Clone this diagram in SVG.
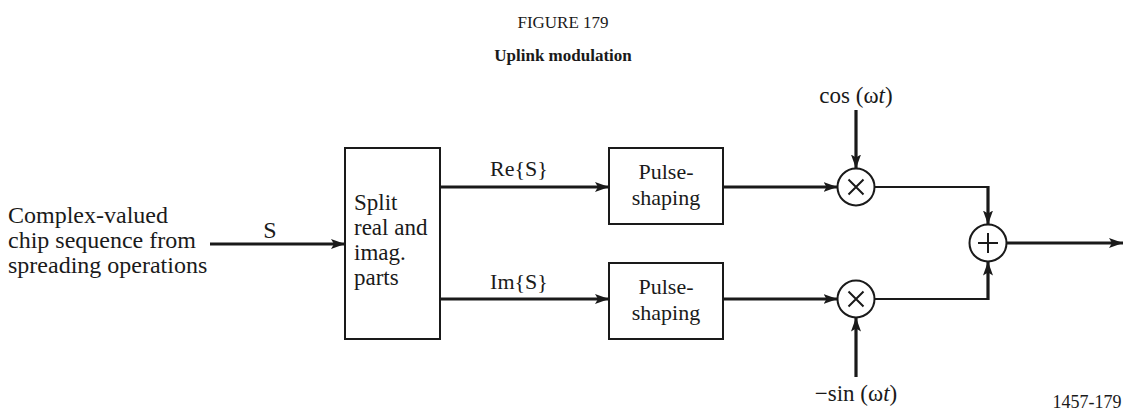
<svg xmlns="http://www.w3.org/2000/svg" width="1126" height="414" viewBox="0 0 1126 414" font-family="'Liberation Serif', 'Times New Roman', 'DejaVu Serif', serif">
<style>
text{font-family:'Liberation Serif','Times New Roman','DejaVu Serif',serif;fill:#1a1a1a}
.t{font-size:22px}
.big{font-size:24px}
.mid{font-size:23px}
.c{text-anchor:middle}
.box{fill:#fff;stroke:#1a1a1a;stroke-width:2}
.thick{stroke:#1a1a1a;stroke-width:3.2;fill:none}
.thin{stroke:#1a1a1a;stroke-width:2;fill:none}
</style>
<defs>
<marker id="ah" markerUnits="userSpaceOnUse" markerWidth="16" markerHeight="12" refX="14" refY="5" orient="auto">
<path d="M0,0 L14,5 L0,10 L3,5 Z" fill="#1a1a1a"/>
</marker>
</defs>
<rect width="1126" height="414" fill="#fff"/>
<g id="title">
<text x="563" y="28" class="c" font-size="17">FIGURE 179</text>
<text x="563" y="61" class="c" font-size="17" font-weight="bold">Uplink modulation</text>
</g>
<g id="input-label">
<text class="big" x="8" y="223">Complex-valued</text>
<text class="big" x="8" y="248">chip sequence from</text>
<text class="big" x="8" y="273">spreading operations</text>
</g>
<g id="split">
<rect class="box" x="345" y="148" width="95" height="191"/>
<text class="mid" x="354" y="210">Split</text>
<text class="mid" x="354" y="235">real and</text>
<text class="mid" x="354" y="260">imag.</text>
<text class="mid" x="354" y="285">parts</text>
</g>
<g id="pulse1">
<rect class="box" x="609" y="148" width="114" height="76"/>
<text class="t c" x="666" y="179">Pulse-</text>
<text class="t c" x="666" y="205">shaping</text>
</g>
<g id="pulse2">
<rect class="box" x="609" y="263" width="114" height="76"/>
<text class="t c" x="666" y="294">Pulse-</text>
<text class="t c" x="666" y="320">shaping</text>
</g>
<g id="mult1">
<circle class="thin" cx="856" cy="187" r="18.5" fill="#fff"/>
<path class="thin" d="M848.5,179.5 L863.5,194.5 M863.5,179.5 L848.5,194.5"/>
</g>
<g id="mult2">
<circle class="thin" cx="856" cy="299" r="18.5" fill="#fff"/>
<path class="thin" d="M848.5,291.5 L863.5,306.5 M863.5,291.5 L848.5,306.5"/>
</g>
<g id="adder">
<circle class="thin" cx="988" cy="243" r="18.5" fill="#fff"/>
<path class="thin" d="M978,243 L998,243 M988,233 L988,253"/>
</g>
<g id="labels">
<text class="big c" x="270" y="238">S</text>
<text class="t c" x="519" y="176">Re{S}</text>
<text class="t c" x="519" y="289">Im{S}</text>
<text class="mid c" x="856" y="103">cos (ω<tspan font-style="italic">t</tspan>)</text>
<text class="mid c" x="856" y="401">−sin (ω<tspan font-style="italic">t</tspan>)</text>
<text x="1087" y="408" class="c" font-size="18">1457-179</text>
</g>
<g id="connectors">
<line class="thick" x1="210" y1="244" x2="345" y2="244" marker-end="url(#ah)"/>
<line class="thick" x1="440" y1="187" x2="609" y2="187" marker-end="url(#ah)"/>
<line class="thick" x1="440" y1="299" x2="609" y2="299" marker-end="url(#ah)"/>
<line class="thick" x1="723" y1="187" x2="837.5" y2="187" marker-end="url(#ah)"/>
<line class="thick" x1="723" y1="299" x2="837.5" y2="299" marker-end="url(#ah)"/>
<line class="thick" x1="856" y1="110" x2="856" y2="168.5" marker-end="url(#ah)"/>
<line class="thick" x1="856" y1="377" x2="856" y2="317.5" marker-end="url(#ah)"/>
<path class="thin" d="M874.5,187 L988,187"/>
<path class="thin" d="M874.5,299 L988,299"/>
<line class="thick" x1="988" y1="186" x2="988" y2="224.5" marker-end="url(#ah)"/>
<line class="thick" x1="988" y1="300" x2="988" y2="261.5" marker-end="url(#ah)"/>
<line class="thick" x1="1006.5" y1="243" x2="1123" y2="243" marker-end="url(#ah)"/>
</g>
</svg>
